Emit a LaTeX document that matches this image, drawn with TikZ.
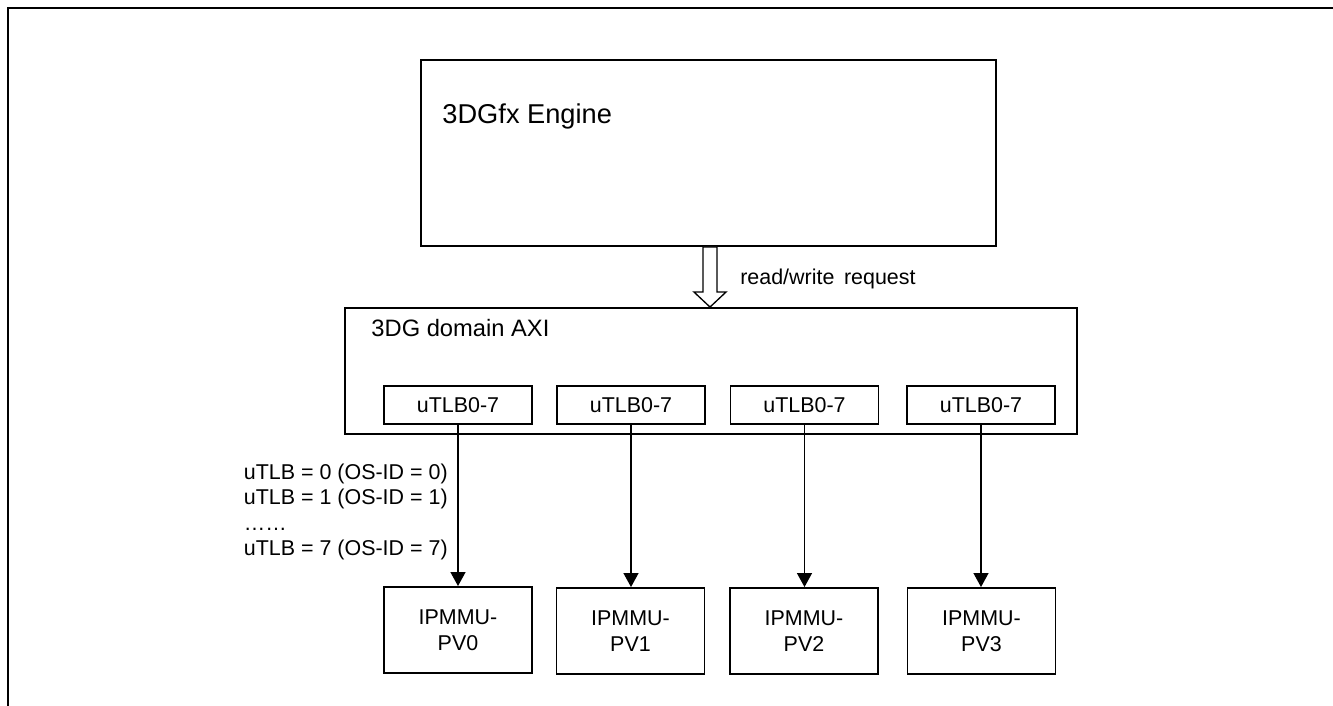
\documentclass[tikz,border=0pt]{standalone}
\usepackage{fontspec}
\setmainfont{Liberation Sans}
\usetikzlibrary{arrows.meta,positioning,calc}

\begin{document}
\begin{tikzpicture}[
  x=0.02cm, y=-0.02cm,
  >={Triangle[length=2.8mm,width=3mm]},
  font=\fontsize{12.2}{14.5}\selectfont,
  box/.style={draw, line width=1.1pt, rectangle, inner sep=0pt, align=center},
  tlb/.style={box, minimum width=2.96cm, minimum height=0.76cm},
  mmu/.style={box, minimum width=2.96cm, minimum height=1.72cm},
  title/.style={anchor=west, inner sep=0pt, font=\fontsize{15.5}{18}\selectfont},
  lbl/.style={anchor=west, inner sep=0pt},
  arr/.style={->, line width=0.75pt},
  hollow/.style={draw, fill=white, line width=0.75pt, line join=miter},
  frame/.style={line width=1.5pt}
]
\useasboundingbox (0,0) rectangle (1333,706);
\draw[frame] (1333,8) -- (8,8) -- (8,706);

% engine and bus
\node[box, minimum width=11.5cm, minimum height=3.72cm] (engine) at (708.5,153) {};
\node[title] (enginelbl) at ([shift={(22,57)}]engine.north west) {3DGfx Engine};
\node[box, minimum width=14.64cm, minimum height=2.52cm] (axi) at (711,371) {};
\node[title, font=\fontsize{13.5}{16}\selectfont] (axilbl) at ([shift={(27,21)}]axi.north west) {3DG domain AXI};

% uTLBs and IPMMUs
\node[tlb] (utlb0) at (458,405) {uTLB0-7};
\node[tlb] (utlb1) at (631,405) {uTLB0-7};
\node[tlb] (utlb2) at (804.5,405) {uTLB0-7};
\node[tlb] (utlb3) at (981,405) {uTLB0-7};
\node[mmu] (pv0) at (458,630) {IPMMU-\\PV0};
\node[mmu] (pv1) at (630.5,631) {IPMMU-\\PV1};
\node[mmu] (pv2) at (804,631) {IPMMU-\\PV2};
\node[mmu] (pv3) at (981.5,631) {IPMMU-\\PV3};

% request arrow
\coordinate (tip) at ([xshift=0.03cm]engine.south |- axi.north);
\draw[hollow] ([shift={(-5.5,0)}]engine.south) -- ([shift={(-7,-15)}]tip) -- ([shift={(-16,-15)}]tip) -- (tip)
  -- ([shift={(16,-15)}]tip) -- ([shift={(7,-15)}]tip) -- ([shift={(8.5,0)}]engine.south) -- cycle;
\node[lbl] (rwlbl) at ([shift={(31.5,32)}]engine.south) {read/write\hspace{0.45em}request};

\draw[arr] (utlb0.south) -- (utlb0.south |- pv0.north);
\draw[arr] (utlb1.south) -- (utlb1.south |- pv1.north);
\draw[arr] (utlb2.south) -- (utlb2.south |- pv2.north);
\draw[arr] (utlb3.south) -- (utlb3.south |- pv3.north);

\node[anchor=east, align=left, inner sep=0pt] (osid) at ([shift={(-10,87)}]utlb0.south)
  {uTLB = 0 (OS-ID = 0)\\uTLB = 1 (OS-ID = 1)\\……\\uTLB = 7 (OS-ID = 7)};
\end{tikzpicture}
\end{document}
